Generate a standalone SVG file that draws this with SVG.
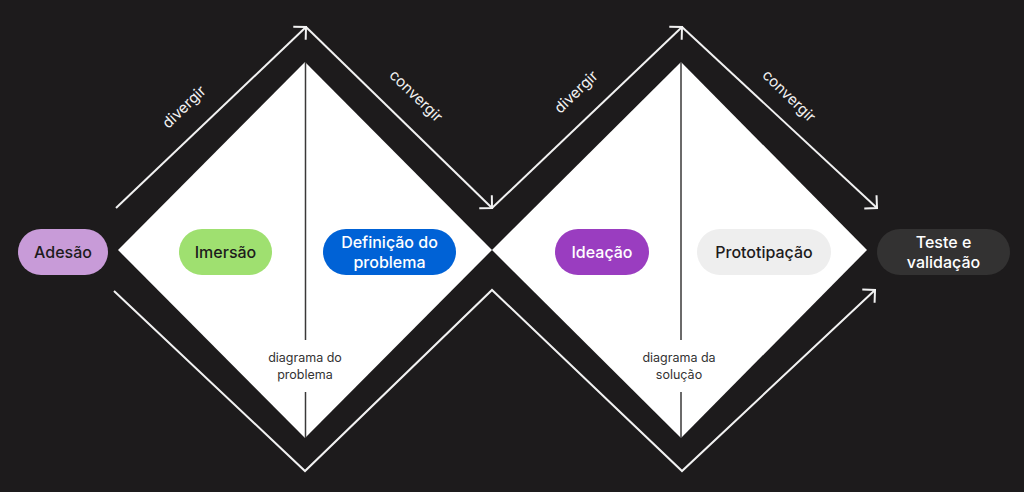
<svg xmlns="http://www.w3.org/2000/svg" width="1024" height="492" viewBox="0 0 1024 492">
  <defs>
    <style>
      .bg { fill: #1d1b1c; }
      .diamond { fill: #ffffff; }
      .divider { stroke: #3a3939; stroke-width: 1.5; fill: none; }
      .flow { stroke: #f2f2f2; stroke-width: 2; fill: none; }
      .lbl { font-family: Inter, "Liberation Sans", sans-serif; font-size: 15px; font-weight: 400; fill: #f2f2f2; text-anchor: middle; }
      .cap { font-family: Inter, "Liberation Sans", sans-serif; font-size: 12.5px; font-weight: 400; fill: #333333; text-anchor: middle; }
      .pill-text { font-family: Inter, "Liberation Sans", sans-serif; font-size: 16px; font-weight: 500; text-anchor: middle; }
      .dark { fill: #1d1b1c; }
      .light { fill: #ffffff; }
    </style>
    <marker id="head" markerUnits="userSpaceOnUse" orient="auto" refX="0" refY="0" markerWidth="20" markerHeight="20" overflow="visible">
      <path d="M-9,-9 L0,0 L-9,9" stroke="#f2f2f2" stroke-width="2" fill="none"/>
    </marker>
  </defs>

  <rect class="bg" x="0" y="0" width="1024" height="492"/>

  <g id="diagrama-problema">
    <polygon class="diamond" points="118,250 305,62 492,250 305,438"/>
    <line class="divider" x1="305.5" y1="62" x2="305.5" y2="340"/>
    <line class="divider" x1="305.5" y1="392" x2="305.5" y2="438"/>
    <text class="cap" x="305" y="362">diagrama do</text>
    <text class="cap" x="305" y="379">problema</text>
  </g>

  <g id="diagrama-solucao">
    <polygon class="diamond" points="492,250 681,62 867,250 681,438"/>
    <line class="divider" x1="681" y1="62" x2="681" y2="340"/>
    <line class="divider" x1="681" y1="392" x2="681" y2="438"/>
    <text class="cap" x="679" y="362">diagrama da</text>
    <text class="cap" x="679" y="379">solução</text>
  </g>

  <g id="connectors">
    <line class="flow" x1="116" y1="208" x2="306" y2="27" marker-end="url(#head)"/>
    <line class="flow" x1="306" y1="27" x2="492" y2="208" marker-end="url(#head)"/>
    <line class="flow" x1="492" y1="208" x2="682" y2="27" marker-end="url(#head)"/>
    <line class="flow" x1="682" y1="27" x2="877" y2="208" marker-end="url(#head)"/>
    <polyline class="flow" points="114,291 305,471 492,290 682,471 875,290" marker-end="url(#head)"/>
    <text class="lbl" transform="translate(184,107) rotate(-44)" y="5">divergir</text>
    <text class="lbl" transform="translate(416,96) rotate(44)" y="5">convergir</text>
    <text class="lbl" transform="translate(576,92) rotate(-44)" y="5">divergir</text>
    <text class="lbl" transform="translate(789,96) rotate(44)" y="5">convergir</text>
  </g>

  <g id="adesao">
    <rect x="18" y="229" width="90" height="46" rx="23" fill="#c89bd8"/>
    <text class="pill-text dark" x="63" y="258">Adesão</text>
  </g>

  <g id="imersao">
    <rect x="179" y="229" width="93" height="46" rx="23" fill="#9fe070"/>
    <text class="pill-text dark" x="225.5" y="258">Imersão</text>
  </g>

  <g id="definicao">
    <rect x="323" y="229" width="133" height="46" rx="23" fill="#0062d6"/>
    <text class="pill-text light" x="389.5" y="248">Definição do</text>
    <text class="pill-text light" x="389.5" y="268">problema</text>
  </g>

  <g id="ideacao">
    <rect x="555" y="229" width="94" height="46" rx="23" fill="#9a3dc0"/>
    <text class="pill-text light" x="602" y="258">Ideação</text>
  </g>

  <g id="prototipacao">
    <rect x="697" y="229" width="134" height="46" rx="23" fill="#eeeeee"/>
    <text class="pill-text dark" x="764" y="258">Prototipação</text>
  </g>

  <g id="teste">
    <rect x="877" y="229" width="133" height="46" rx="23" fill="#333232"/>
    <text class="pill-text light" x="943.5" y="248">Teste e</text>
    <text class="pill-text light" x="943.5" y="268">validação</text>
  </g>
</svg>
